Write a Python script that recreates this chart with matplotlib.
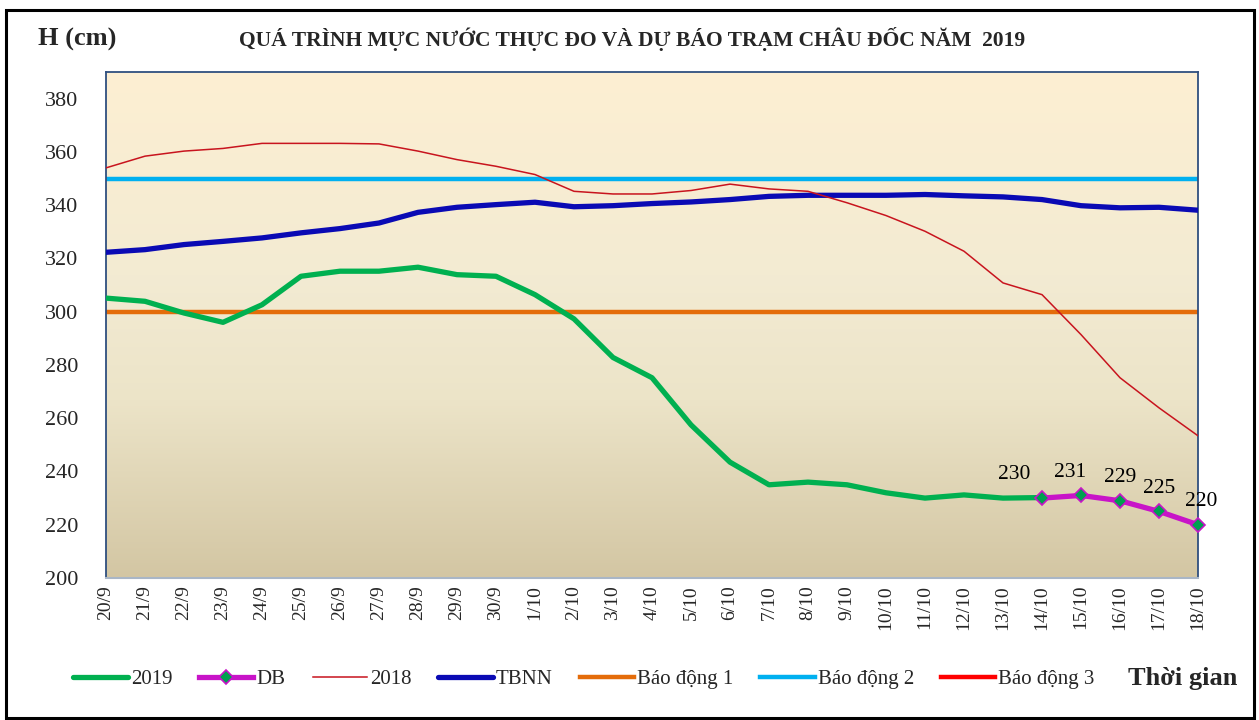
import matplotlib
matplotlib.use("Agg")
import matplotlib.pyplot as plt
import numpy as np
from matplotlib.colors import LinearSegmentedColormap
from matplotlib.patches import Rectangle

# ---------------- data ----------------
dates = ["20/9", "21/9", "22/9", "23/9", "24/9", "25/9", "26/9", "27/9", "28/9", "29/9",
         "30/9", "1/10", "2/10", "3/10", "4/10", "5/10", "6/10", "7/10", "8/10", "9/10",
         "10/10", "11/10", "12/10", "13/10", "14/10", "15/10", "16/10", "17/10", "18/10"]

h2019 = [305.1, 303.9, 299.5, 296.0, 302.6, 313.3, 315.2, 315.2, 316.7, 313.9,
         313.3, 306.4, 297.3, 282.8, 275.2, 257.5, 243.5, 235.0, 236.0, 235.0,
         232.0, 230.0, 231.2, 230.0, 230.2]

db_dates = ["14/10", "15/10", "16/10", "17/10", "18/10"]
db_vals = [230, 231, 229, 225, 220]
db_labels = ["230", "231", "229", "225", "220"]

h2018 = [354.0, 358.4, 360.3, 361.3, 363.2, 363.2, 363.2, 363.0, 360.3, 357.1,
         354.6, 351.5, 345.2, 344.2, 344.2, 345.5, 347.9, 346.1, 345.2, 340.9,
         336.1, 330.2, 322.7, 310.8, 306.4, 291.4, 275.2, 263.9, 253.4]

tbnn = [322.3, 323.3, 325.2, 326.4, 327.7, 329.6, 331.2, 333.3, 337.3, 339.2,
        340.2, 341.1, 339.4, 339.8, 340.6, 341.2, 342.1, 343.3, 343.7, 343.7,
        343.7, 344.0, 343.5, 343.1, 342.1, 339.8, 339.0, 339.2, 338.1]

bao_dong_1 = 300
bao_dong_2 = 350
bao_dong_3 = 400

yticks = [200, 220, 240, 260, 280, 300, 320, 340, 360, 380]

# ---------------- figure ----------------
plt.rcParams['font.family'] = ['Liberation Serif', 'DejaVu Serif']
txt = '#262626'

fig = plt.figure(figsize=(12.59, 7.2), dpi=100)
fig.patch.set_facecolor('white')
ax = fig.add_axes([106 / 1259, 1 - 578 / 720, (1198 - 106) / 1259, (578 - 72) / 720])

x = np.arange(len(dates))
ax.set_xlim(0, len(dates) - 1)
ax.set_ylim(200, 390)

# gradient background
cmap = LinearSegmentedColormap.from_list(
    'parch', [(0.0, (211/255, 198/255, 163/255)),
              (0.35, (236/255, 228/255, 200/255)),
              (0.6, (243/255, 235/255, 211/255)),
              (1.0, (253/255, 239/255, 210/255))])
grad = np.linspace(0, 1, 256).reshape(-1, 1)
ax.imshow(grad, cmap=cmap, aspect='auto', origin='lower',
          extent=[0, len(dates) - 1, 200, 390], zorder=0)

x2019 = np.arange(len(h2019))
xdb = np.array([dates.index(d) for d in db_dates])

l_bd1, = ax.plot(x, [bao_dong_1] * len(x), color='#E46C0A', lw=3.2, zorder=2, label='Báo động 1')
l_bd2, = ax.plot(x, [bao_dong_2] * len(x), color='#00B0F0', lw=3.2, zorder=2, label='Báo động 2')
l_bd3, = ax.plot(x, [bao_dong_3] * len(x), color='#FF0000', lw=3.2, zorder=2, label='Báo động 3')
l_tbnn, = ax.plot(x, tbnn, color='#0A0AB4', lw=3.8, zorder=3, label='TBNN',
                  solid_joinstyle='round', solid_capstyle='round')
l_2018, = ax.plot(x, h2018, color='#C8141E', lw=1.1, zorder=3, label='2018',
                  solid_joinstyle='round')
l_2019, = ax.plot(x2019, h2019, color='#00B050', lw=3.8, zorder=4, label='2019',
                  solid_joinstyle='round', solid_capstyle='round')
l_db, = ax.plot(xdb, db_vals, color='#C814C8', lw=3.8, zorder=5, label='DB',
                marker='D', markersize=7, markerfacecolor='#00A050',
                markeredgecolor='#C814C8', markeredgewidth=1.2,
                solid_joinstyle='round', clip_on=False)

label_dx = [-20, -8, 0, 0, 2]
for xi, v, s, dx in zip(xdb, db_vals, db_labels, label_dx):
    ax.annotate(s, (xi, v), xytext=(dx, 10), textcoords='offset points',
                ha='center', va='bottom', fontsize=15.5, color='black', zorder=6,
                annotation_clip=False)

ax.set_xticks(x)
ax.set_xticklabels(dates, rotation=90, fontsize=14, color=txt)
ax.set_yticks(yticks)
ax.set_yticklabels([str(t) for t in yticks], fontsize=16, color=txt)
ax.tick_params(axis='both', length=0)
ax.tick_params(axis='y', pad=20)
ax.tick_params(axis='x', pad=5)

for side in ['left', 'right', 'top']:
    ax.spines[side].set_color('#2F4F7F')
    ax.spines[side].set_linewidth(1.3)
ax.spines['bottom'].set_color('#A9B6C6')
ax.spines['bottom'].set_linewidth(1.5)

# titles
fig.text(38 / 1259, 1 - 39 / 720, 'H (cm)', fontsize=19, fontweight='bold', color=txt,
         ha='left', va='center')
fig.text(632 / 1259, 1 - 39 / 720,
         'QUÁ TRÌNH MỰC NƯỚC THỰC ĐO VÀ DỰ BÁO TRẠM CHÂU ĐỐC NĂM  2019',
         fontsize=15.5, fontweight='bold', color=txt, ha='center', va='center')
fig.text(1128 / 1259, 1 - 678 / 720, 'Thời gian', fontsize=19, fontweight='bold',
         color=txt, ha='left', va='center')

# legend
handles = [l_2019, l_db, l_2018, l_tbnn, l_bd1, l_bd2, l_bd3]
leg = fig.legend(handles=handles, labels=[h.get_label() for h in handles],
                 loc='center', bbox_to_anchor=(584 / 1259, 1 - 679 / 720), ncol=7,
                 frameon=False, fontsize=15, handlelength=2.6, handletextpad=0.15,
                 columnspacing=1.3, labelcolor=txt)

# outer frame
fig.patches.append(Rectangle((6 / 1259, 2 / 720), 1248 / 1259, 708 / 720,
                             transform=fig.transFigure, fill=False,
                             edgecolor='black', lw=2.2))

fig.savefig('out.png', dpi=100)
